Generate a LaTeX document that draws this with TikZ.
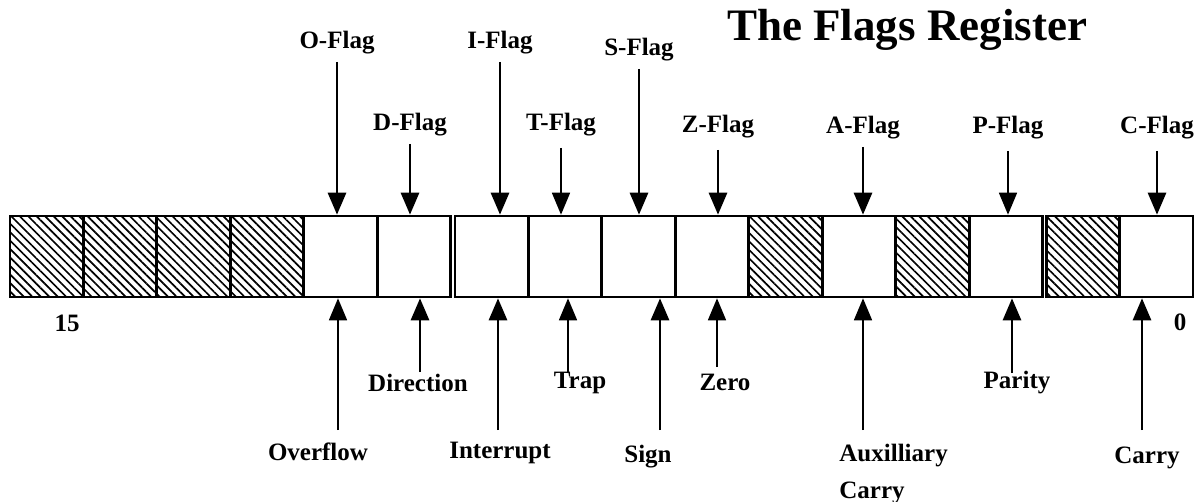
\documentclass[tikz,border=0pt]{standalone}
\usepackage{fontspec}
\setmainfont{Liberation Serif}
\usetikzlibrary{arrows.meta,patterns.meta}
\tikzset{
  cell/.style={draw, line width=1.3pt, minimum width=36.5pt, minimum height=40.5pt,
               inner sep=0pt},
  hatched/.style={cell, pattern={Lines[angle=-45, distance=3pt, line width=0.85pt]}},
  lbl/.style={font=\bfseries\fontsize{12.5}{15}\selectfont, inner sep=1pt},
  ar/.style={-{Triangle[length=11pt, width=9pt]}, line width=1.4pt},
  arthin/.style={ar, line width=0.8pt},
  down/.style={shorten <=2.5pt}
}
\begin{document}
\begin{tikzpicture}[x=0.5pt,y=-0.5pt]
  \useasboundingbox (0,0) rectangle (1199,502);
  \node[font=\bfseries\fontsize{22.5}{27}\selectfont] (title) at (907,30) {The Flags Register};

  % register cells, bit 15 to bit 0
  \foreach \bit/\x/\kind in {15/46.5/hatched, 14/120/hatched, 13/193.5/hatched,
      12/267/hatched, 11/340.5/cell, 10/414/cell, 9/491.5/cell, 8/565/cell,
      7/638.5/cell, 6/712/cell, 5/785.5/hatched, 4/859/cell, 3/932.5/hatched,
      2/1006/cell, 1/1083/hatched, 0/1156.5/cell}
    \node[\kind] (b\bit) at (\x,256.5) {};

  \node[lbl] (msb) at (67,323) {15};
  \node[lbl] (lsb) at (1180,322) {0};

  % flag names above the register
  \node[lbl] (oflag) at (337,43) {O-Flag};
  \node[lbl] (dflag) at (410,125) {D-Flag};
  \node[lbl] (iflag) at (500,43) {I-Flag};
  \node[lbl] (tflag) at (561,125) {T-Flag};
  \node[lbl] (sflag) at (639,50) {S-Flag};
  \node[lbl] (zflag) at (718,127) {Z-Flag};
  \node[lbl] (aflag) at (863,128) {A-Flag};
  \node[lbl] (pflag) at (1008,128) {P-Flag};
  \node[lbl] (cflag) at (1157,128) {C-Flag};

  \draw[ar, down] (oflag.south) -- (oflag.south |- b11.north);
  \draw[ar, down] (dflag.south) -- (dflag.south |- b10.north);
  \draw[ar, down] (iflag.south) -- (iflag.south |- b9.north);
  \draw[arthin, down, shorten <=4.5pt] (tflag.south) -- (tflag.south |- b8.north);
  \draw[ar, down] (sflag.south) -- (sflag.south |- b7.north);
  \draw[ar, down, shorten <=4.5pt] (zflag.south) -- (zflag.south |- b6.north);
  \draw[ar, down] (aflag.south) -- (aflag.south |- b4.north);
  \draw[arthin, down, shorten <=4.5pt] (pflag.south) -- (pflag.south |- b2.north);
  \draw[ar, down, shorten <=4.5pt] (cflag.south) -- (cflag.south |- b0.north);

  % meanings below the register
  \node[lbl] (ovf) at (318,452) {Overflow};
  \node[lbl] (dir) at (418,383) {Direction};
  \node[lbl] (intr) at (500,453) {Interrupt};
  \node[lbl] (trap) at (580,383) {Trap};
  \node[lbl] (sign) at (648,457) {Sign};
  \node[lbl] (zero) at (725,382) {Zero};
  \node[lbl, font=\bfseries\fontsize{12.5}{18.5}\selectfont, align=left, anchor=west]
    (aux) at (837,474) {Auxilliary\\Carry};
  \node[lbl] (par) at (1017,383) {Parity};
  \node[lbl] (cy) at (1147,458) {Carry};

  \coordinate (ovft) at (338,430);
  \coordinate (dirt) at (420,372);
  \coordinate (intrt) at (498,430);
  \coordinate (trapt) at (568,372);
  \coordinate (signt) at (660,430);
  \coordinate (zerot) at (717,367);
  \coordinate (auxt) at (863,430);
  \coordinate (part) at (1012,373);
  \coordinate (cyt) at (1142,430);

  \draw[arthin] (ovft) -- (ovft |- b11.south);
  \draw[ar] (dirt) -- (dirt |- b10.south);
  \draw[ar] (intrt) -- (intrt |- b9.south);
  \draw[arthin] (trapt) -- (trapt |- b8.south);
  \draw[ar] (signt) -- (signt |- b7.south);
  \draw[arthin] (zerot) -- (zerot |- b6.south);
  \draw[arthin] (auxt) -- (auxt |- b4.south);
  \draw[ar] (part) -- (part |- b2.south);
  \draw[ar] (cyt) -- (cyt |- b0.south);
\end{tikzpicture}
\end{document}
